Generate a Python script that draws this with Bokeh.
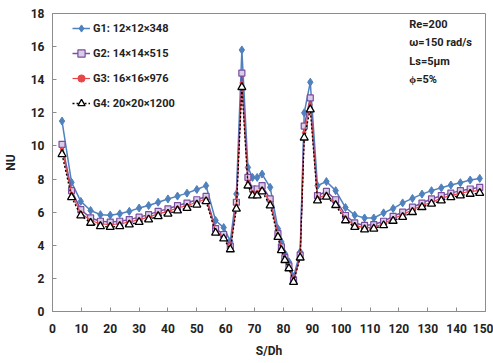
from bokeh.plotting import figure
from bokeh.models import Range1d, Legend, LegendItem, Label, FixedTicker
from bokeh.embed import file_html
from bokeh.resources import INLINE

# S/Dh positions
s_dh = [3.3, 6.6, 9.8, 13.2, 16.6, 20.0, 23.3, 26.6, 30.0, 33.3, 36.6, 40.0, 43.3, 46.6, 50.0, 53.2,
        56.5, 59.3, 61.6, 63.7, 65.6, 67.7, 69.3, 70.9, 72.6, 75.4, 78.1, 79.3, 80.5, 81.9, 83.5, 85.8,
        87.2, 89.3, 91.8, 94.9,
        98.1, 101.5, 104.7, 108.1, 111.3, 114.7, 118.0, 121.3, 124.7, 128.0, 131.3, 134.7, 138.0,
        141.3, 144.7, 148.0]

g1 = [11.5, 7.8, 6.65, 6.1, 5.85, 5.82, 5.9, 6.05, 6.25, 6.4, 6.6, 6.8, 6.97, 7.15, 7.37, 7.6,
      5.5, 5.07, 4.25, 7.1, 15.8, 8.7, 8.1, 8.1, 8.3, 7.5, 5.0, 4.2, 3.5, 3.0, 2.1, 3.6,
      12.0, 13.85, 7.6, 7.85,
      7.3, 6.28, 5.82, 5.65, 5.65, 5.96, 6.22, 6.56, 6.83, 7.09, 7.3, 7.47, 7.64, 7.78, 7.94, 8.04]

g2 = [10.1, 7.3, 6.15, 5.65, 5.45, 5.4, 5.45, 5.55, 5.7, 5.85, 6.05, 6.2, 6.4, 6.55, 6.75, 6.95,
      5.0, 4.65, 3.95, 6.6, 14.4, 8.1, 7.4, 7.4, 7.6, 6.8, 4.7, 3.9, 3.25, 2.75, 1.9, 3.4,
      11.2, 12.9, 7.0, 7.25,
      6.75, 5.8, 5.35, 5.2, 5.25, 5.45, 5.75, 6.0, 6.3, 6.55, 6.8, 7.0, 7.15, 7.3, 7.4, 7.5]

g3 = [9.8, 7.1, 5.95, 5.5, 5.3, 5.25, 5.3, 5.4, 5.55, 5.7, 5.9, 6.05, 6.25, 6.4, 6.6, 6.8,
      4.85, 4.5, 3.85, 6.4, 13.8, 7.8, 7.2, 7.2, 7.4, 6.6, 4.6, 3.8, 3.15, 2.65, 1.85, 3.3,
      10.8, 12.5, 6.85, 7.05,
      6.55, 5.65, 5.2, 5.05, 5.1, 5.3, 5.6, 5.85, 6.15, 6.4, 6.6, 6.85, 7.0, 7.15, 7.25, 7.3]

g4 = [9.5, 6.9, 5.8, 5.35, 5.15, 5.1, 5.15, 5.25, 5.4, 5.55, 5.75, 5.9, 6.1, 6.25, 6.45, 6.65,
      4.75, 4.4, 3.75, 6.2, 13.55, 7.6, 7.0, 7.0, 7.25, 6.4, 4.5, 3.7, 3.1, 2.6, 1.78, 3.25,
      10.5, 12.2, 6.7, 6.93,
      6.42, 5.5, 5.1, 4.95, 5.0, 5.2, 5.47, 5.7, 6.0, 6.3, 6.5, 6.7, 6.9, 7.0, 7.1, 7.15]

labels = ["G1: 12×12×348", "G2: 14×14×515", "G3: 16×16×976", "G4: 20×20×1200"]
x_ticks = [0, 10, 20, 30, 40, 50, 60, 70, 80, 90, 100, 110, 120, 130, 140, 150]
y_ticks = [0, 2, 4, 6, 8, 10, 12, 14, 16, 18]
notes = ["Re=200", "ω=150 rad/s", "Ls=5μm", "ϕ=5%"]

FONT = "Roboto"

p = figure(width=493, height=363, output_backend="svg", toolbar_location=None,
           x_range=Range1d(0, 150), y_range=Range1d(0, 18),
           min_border_left=46, min_border_right=8, min_border_top=13, min_border_bottom=52)
p.background_fill_color = "white"
p.border_fill_color = "white"
p.outline_line_color = "#8c8c8c"
p.xgrid.visible = False
p.ygrid.visible = False

for ax in (p.xaxis[0], p.yaxis[0]):
    ax.major_label_text_font = FONT
    ax.major_label_text_font_style = "bold"
    ax.major_label_text_font_size = "12px"
    ax.major_label_text_color = "#222222"
    ax.axis_label_text_font = FONT
    ax.axis_label_text_font_style = "bold"
    ax.axis_label_text_font_size = "12px"
    ax.axis_label_text_color = "#222222"
    ax.axis_line_color = "#8c8c8c"
    ax.major_tick_line_color = "#8c8c8c"
    ax.major_tick_in = 4
    ax.major_tick_out = 0
    ax.minor_tick_line_color = None

p.xaxis.ticker = FixedTicker(ticks=x_ticks)
p.yaxis.ticker = FixedTicker(ticks=y_ticks)
p.xaxis.axis_label = "S/Dh"
p.yaxis.axis_label = "NU"
p.xaxis.major_label_standoff = 12
p.xaxis.axis_label_standoff = 8
p.yaxis.major_label_standoff = 8
p.yaxis.axis_label_standoff = 10

c1, c2, c3, c4 = "#4f81bd", "#7a4e9e", "#e8474a", "#000000"

l1 = p.line(s_dh, g1, line_color=c1, line_width=1.5)
m1 = p.scatter(s_dh, g1, marker="diamond", size=8, fill_color=c1, line_color=c1)

l2 = p.line(s_dh, g2, line_color=c2, line_width=1.5)
m2 = p.scatter(s_dh, g2, marker="square", size=6, fill_color="#d8cce8", line_color=c2, line_width=1.2)

l3 = p.line(s_dh, g3, line_color=c3, line_width=1.2)
m3 = p.scatter(s_dh, g3, marker="circle", size=3.5, fill_color=c3, line_color=c3)

l4 = p.line(s_dh, g4, line_color=c4, line_width=1.3, line_dash="2 2")
m4 = p.scatter(s_dh, g4, marker="triangle", size=8, fill_color="white", line_color=c4, line_width=1.3)

legend = Legend(items=[
    LegendItem(label=labels[0], renderers=[l1, m1]),
    LegendItem(label=labels[1], renderers=[l2, m2]),
    LegendItem(label=labels[2], renderers=[l3, m3]),
    LegendItem(label=labels[3], renderers=[l4, m4]),
], location=(20, 198))
legend.label_text_font = FONT
legend.label_text_font_style = "bold"
legend.label_text_font_size = "11px"
legend.label_text_color = "#222222"
legend.border_line_color = None
legend.background_fill_alpha = 0
legend.glyph_width = 18
legend.glyph_height = 20
legend.label_height = 20
legend.spacing = 5
legend.padding = 0
legend.margin = 0
legend.label_standoff = 3
p.add_layout(legend, "center")

note_y = [17.33, 16.24, 15.09, 14.0]
for t, yy in zip(notes, note_y):
    p.add_layout(Label(x=123.6, y=yy, text=t, text_font=FONT, text_font_style="bold",
                       text_font_size="11px", text_color="#222222", text_baseline="middle"))

open("out.html", "w").write(file_html(p, INLINE))
